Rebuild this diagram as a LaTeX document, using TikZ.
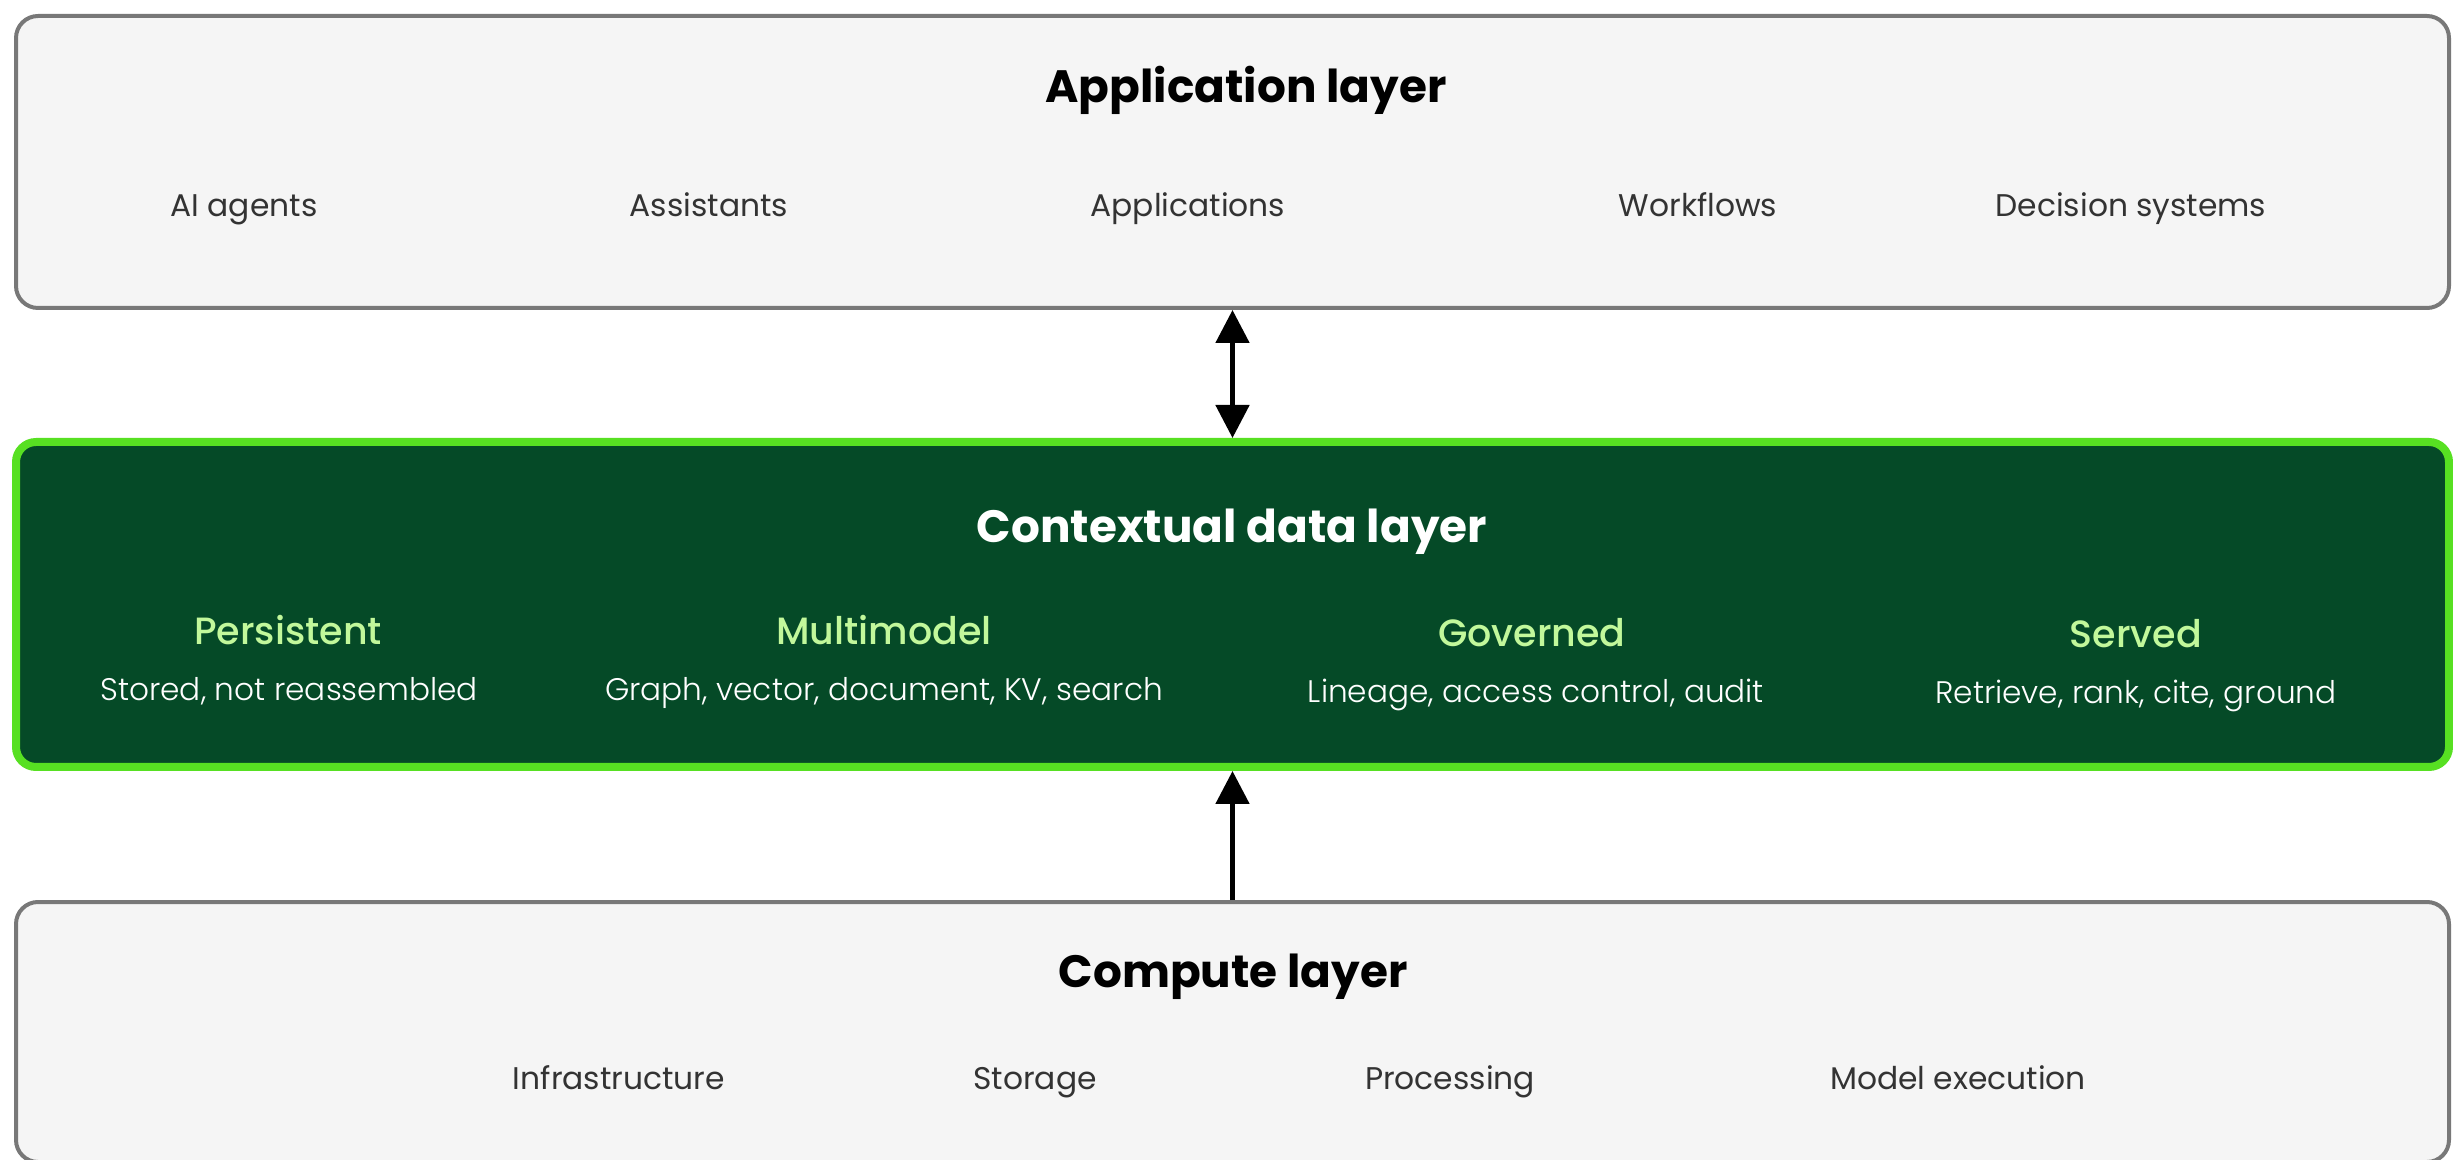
\documentclass[tikz,border=0pt]{standalone}
\usepackage{fontspec}
\setmainfont{Poppins}
\newfontfamily\lightface{Poppins Light}
\newfontfamily\mediumface{Poppins Medium}
\usetikzlibrary{arrows.meta}

\definecolor{panelfill}{HTML}{F5F5F5}
\definecolor{panelline}{HTML}{787878}
\definecolor{ctxfill}{HTML}{054A27}
\definecolor{ctxline}{HTML}{57E022}
\definecolor{ctxhead}{HTML}{C2F89B}
\definecolor{itemtext}{HTML}{333333}

\begin{document}
\begin{tikzpicture}[x=0.3pt,y=-0.3pt,
  panel/.style={draw=panelline, fill=panelfill, line width=1.2pt,
    rounded corners=6.6pt, minimum width=729.9pt, inner sep=0pt},
  ctxbox/.style={draw=ctxline, fill=ctxfill, line width=2.4pt,
    rounded corners=6pt, minimum width=729.9pt, inner sep=0pt},
  title/.style={anchor=base, inner sep=0pt, font=\bfseries\fontsize{13.6pt}{16pt}\selectfont},
  item/.style={anchor=base, inner sep=0pt, text=itemtext, font=\fontsize{9.4pt}{12pt}\selectfont},
  feature/.style={anchor=base, inner sep=0pt, text=ctxhead, font=\mediumface\fontsize{11.4pt}{14pt}\selectfont},
  detail/.style={anchor=base, inner sep=0pt, text=white, font=\lightface\fontsize{9.35pt}{12pt}\selectfont},
  link/.style={line width=1.5pt, draw=black},
  tip/.tip={Triangle[width=9.9pt, length=9.9pt]}
]
\useasboundingbox (0,0) rectangle (2453,1160);

% three stacked layers
\node[panel, minimum height=87.6pt] (app) at (1232.5,162) {};
\node[ctxbox, minimum height=97.5pt] (ctx) at (1232.5,604.5) {};
\node[panel, minimum height=78pt] (cmp) at (1232.5,1032) {};

% application layer
\node[title] (appT) at (1246,103) {Application layer};
\node[item] (a1) at (244,217) {AI agents};
\node[item] (a2) at (709,217) {Assistants};
\node[item] (a3) at (1188,217) {Applications};
\node[item] (a4) at (1698,217) {Workflows};
\node[item] (a5) at (2131,217) {Decision systems};

% contextual data layer
\node[title, text=white] (ctxT) at (1232,543) {Contextual data layer};
\node[feature] (f1) at (288,645) {Persistent};
\node[detail] (d1) at (289,701) {Stored, not reassembled};
\node[feature] (f2) at (884,645) {Multimodel};
\node[detail] (d2) at (884,701) {Graph, vector, document, KV, search};
\node[feature] (f3) at (1532,647) {Governed};
\node[detail] (d3) at (1536,703) {Lineage, access control, audit};
\node[feature] (f4) at (2136,648) {Served};
\node[detail] (d4) at (2136,704) {Retrieve, rank, cite, ground};

% compute layer
\node[title] (cmpT) at (1233,987) {Compute layer};
\node[item] (c1) at (619,1089) {Infrastructure};
\node[item] (c2) at (1035,1089) {Storage};
\node[item] (c3) at (1450,1089) {Processing};
\node[item] (c4) at (1958,1089) {Model execution};

% connectors between layers
\draw[link, tip-tip] (app.south) -- (ctx.north);
\draw[link, -tip] (cmp.north) -- (ctx.south);
\end{tikzpicture}
\end{document}
